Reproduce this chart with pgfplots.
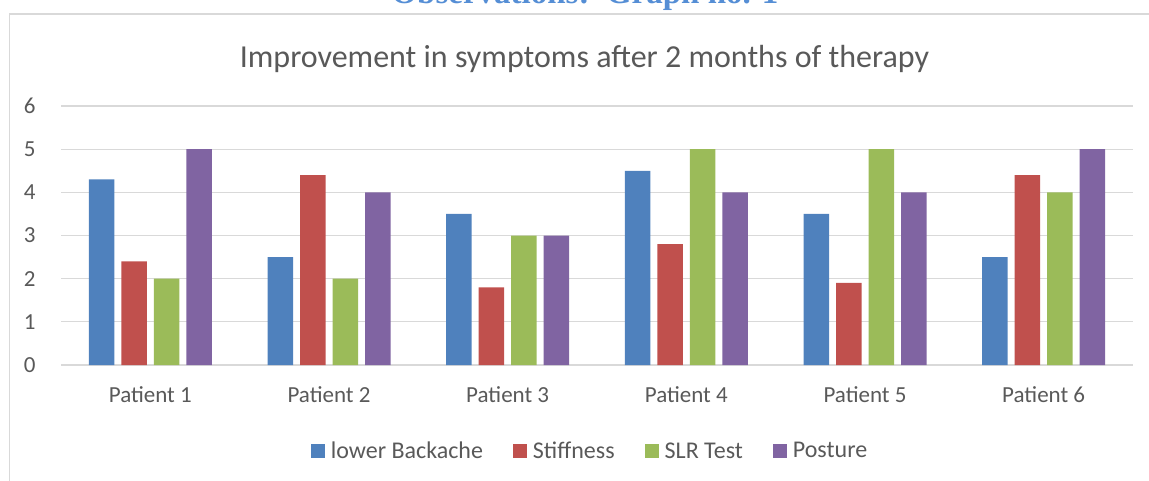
\documentclass[border=0pt]{standalone}
\usepackage{pgfplots}
\pgfplotsset{compat=1.18}
\usepackage{fontspec}
\setmainfont{Carlito}
\newfontfamily\headfont{Liberation Serif}
\definecolor{c1}{HTML}{4F81BD}
\definecolor{c2}{HTML}{C0504D}
\definecolor{c3}{HTML}{9BBB59}
\definecolor{c4}{HTML}{8064A2}
\definecolor{txt}{HTML}{595959}
\definecolor{gridc}{HTML}{D9D9D9}
\definecolor{head}{HTML}{558ED5}
\begin{document}
\begin{tikzpicture}[x=1pt,y=1pt]
\useasboundingbox (0,0) rectangle (1149,480);
\draw[gridc, line width=1.3pt] (9.5,-5) -- (9.5,466) -- (1160,466);
\node[anchor=base, font=\headfont\bfseries\fontsize{33}{40}\selectfont, text=head, inner sep=0pt] at (585,476.5) {Observations:\ \ Graph no. 1};
\begin{axis}[
  at={(61pt,115pt)}, anchor=south west,
  scale only axis, width=1072pt, height=259pt,
  xmin=0.5, xmax=6.5, ymin=0, ymax=6,
  ybar=7pt, bar width=25.5pt,
  xtick={1,2,3,4,5,6},
  xticklabels={Patient 1,Patient 2,Patient 3,Patient 4,Patient 5,Patient 6},
  ytick={0,1,2,3,4,5,6},
  ymajorgrids, grid style={gridc, line width=1.2pt},
  axis x line*=bottom, axis y line*=left,
  axis line style={draw=none},
  major tick length=0pt,
  tick style={draw=none},
  tick label style={font=\fontsize{23}{28}\selectfont, text=txt},
  xticklabel style={yshift=-18pt},
  yticklabel style={anchor=east, xshift=-22pt},
  /pgf/number format/assume math mode=true,
  title={Improvement in symptoms after 2 months of therapy},
  title style={font=\fontsize{32}{38}\selectfont, text=txt, anchor=base, at={(0.4883,1.1236)}},
  legend columns=4,
  legend style={draw=none, fill=none, at={(0.4935,-0.332)}, anchor=center,
    font=\fontsize{24}{29}\selectfont, text=txt,
    /tikz/every even column/.append style={column sep=28pt}},
  legend image code/.code={\fill[#1] (0pt,-7pt) rectangle (14pt,7pt); \path (18pt,0pt);},
]
\addplot[fill=c1, draw=none] coordinates {(1,4.3) (2,2.5) (3,3.5) (4,4.5) (5,3.5) (6,2.5)};
\addplot[fill=c2, draw=none] coordinates {(1,2.4) (2,4.4) (3,1.8) (4,2.8) (5,1.9) (6,4.4)};
\addplot[fill=c3, draw=none] coordinates {(1,2) (2,2) (3,3) (4,5) (5,5) (6,4)};
\addplot[fill=c4, draw=none] coordinates {(1,5) (2,4) (3,3) (4,4) (5,4) (6,5)};
\legend{lower Backache, Stiffness, SLR Test, Posture}
\end{axis}
\end{tikzpicture}
\end{document}
